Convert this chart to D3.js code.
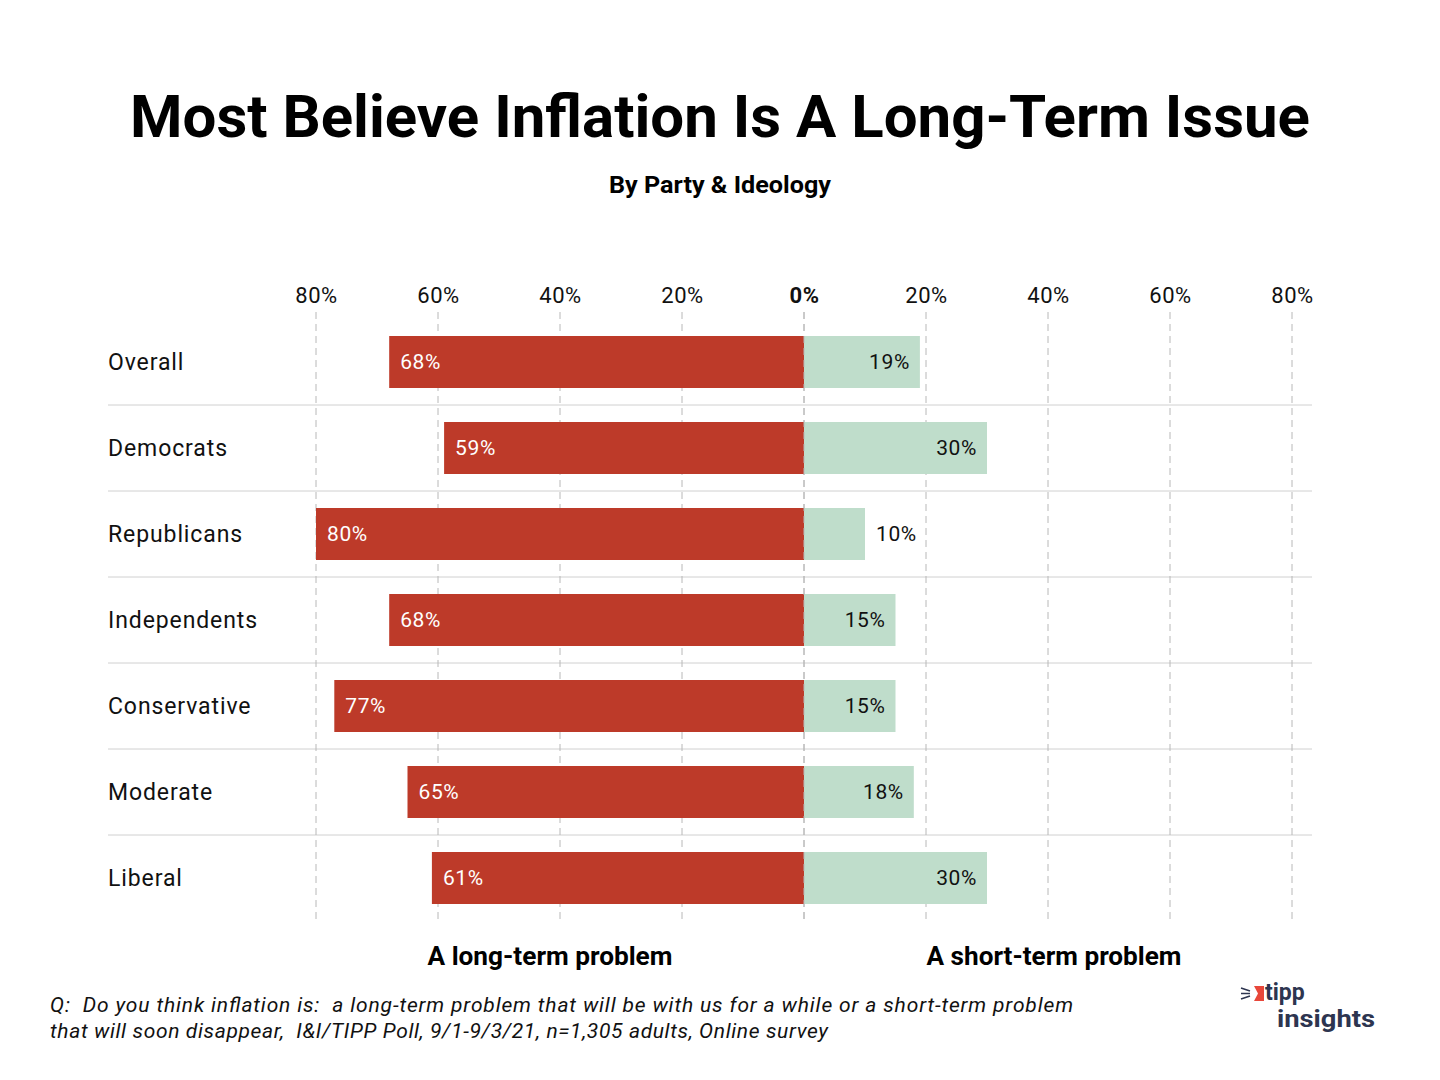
<!DOCTYPE html>
<html><head><meta charset="utf-8">
<script src="https://cdn.jsdelivr.net/npm/d3@7/dist/d3.min.js"></script>
<style>body{margin:0;background:#fff}svg{display:block}text{white-space:pre}</style>
</head><body>
<svg id="c" width="1440" height="1080"></svg>
<script>
const categories = ["Overall","Democrats","Republicans","Independents","Conservative","Moderate","Liberal"];
const longTerm = [68,59,80,68,77,65,61];
const shortTerm = [19,30,10,15,15,18,30];
const ticks = [-80,-60,-40,-20,0,20,40,60,80];

const F = "Roboto, 'Open Sans', sans-serif";
const svg = d3.select("#c");
const red = "#BD3A29", green = "#BFDDCB";

const x = d3.scaleLinear().domain([-80,80]).range([316,1292]);
const rowH = 86;
const top0 = 319;

// title
svg.append("text").attr("x",720).attr("y",137).attr("text-anchor","middle")
  .attr("font-family",F).attr("font-weight",700).attr("font-size",59).attr("fill","#000")
  .attr("textLength",1180).attr("lengthAdjust","spacingAndGlyphs")
  .text("Most Believe Inflation Is A Long-Term Issue");
svg.append("text").attr("x",720).attr("y",193).attr("text-anchor","middle")
  .attr("font-family",F).attr("font-weight",700).attr("font-size",23).attr("fill","#000")
  .attr("textLength",222).attr("lengthAdjust","spacingAndGlyphs")
  .text("By Party & Ideology");

// row separators
categories.slice(1).forEach((c,i)=>{
  const yy = top0 + (i+1)*rowH;
  svg.append("line").attr("x1",108).attr("x2",1312).attr("y1",yy).attr("y2",yy)
    .attr("stroke","#d0d0d0").attr("stroke-width",1);
});

// grid + ticks
const axis = d3.axisTop(x).tickValues(ticks).tickSize(0).tickFormat(d=>Math.abs(d)+"%");
const ag = svg.append("g").attr("transform","translate(0,306)").call(axis);
ag.select(".domain").remove();
ag.selectAll("text").attr("font-family",F).attr("font-size",22).attr("fill","#111").attr("dy",0)
  .attr("letter-spacing",0.5)
  .attr("font-weight",d=>d===0?700:400);
svg.append("g").selectAll("line").data(ticks).join("line")
  .attr("x1",d=>x(d)).attr("x2",d=>x(d)).attr("y1",312).attr("y2",921)
  .attr("stroke","#b8b8b8").attr("stroke-width",1).attr("stroke-dasharray","7,5");

// bars
const bh = 52;
const rowY = i => top0 + i*rowH + rowH/2;
const g = svg.append("g");
g.selectAll("rect.l").data(longTerm).join("rect").attr("class","l")
  .attr("x",d=>x(-d)).attr("width",d=>x(0)-x(-d))
  .attr("y",(d,i)=>rowY(i)-bh/2).attr("height",bh).attr("fill",red);
g.selectAll("rect.s").data(shortTerm).join("rect").attr("class","s")
  .attr("x",x(0)).attr("width",d=>x(d)-x(0))
  .attr("y",(d,i)=>rowY(i)-bh/2).attr("height",bh).attr("fill",green);
svg.append("line").attr("x1",x(0)).attr("x2",x(0)).attr("y1",312).attr("y2",921)
  .attr("stroke","#b8b8b8").attr("stroke-width",1).attr("stroke-dasharray","7,5");

g.selectAll("text.l").data(longTerm).join("text").attr("class","l")
  .attr("x",d=>x(-d)+11).attr("y",(d,i)=>rowY(i)+7)
  .attr("font-family",F).attr("font-size",21).attr("letter-spacing",0.6).attr("fill","#fff").text(d=>d+"%");
g.selectAll("text.s").data(shortTerm).join("text").attr("class","s")
  .attr("x",d=> d>=12 ? x(d)-10 : x(d)+11)
  .attr("text-anchor",d=> d>=12 ? "end" : "start")
  .attr("y",(d,i)=>rowY(i)+7)
  .attr("font-family",F).attr("font-size",21).attr("letter-spacing",0.6).attr("fill","#111").text(d=>d+"%");

// category labels
svg.selectAll("text.cat").data(categories).join("text").attr("class","cat")
  .attr("x",108).attr("y",(d,i)=>rowY(i)+8)
  .attr("font-family",F).attr("font-size",23).attr("letter-spacing",0.9).attr("fill","#111").text(d=>d);

// bottom labels
svg.append("text").attr("x",550).attr("y",965).attr("text-anchor","middle")
  .attr("font-family",F).attr("font-weight",700).attr("font-size",25)
  .attr("textLength",245).attr("lengthAdjust","spacingAndGlyphs").text("A long-term problem");
svg.append("text").attr("x",1054).attr("y",965).attr("text-anchor","middle")
  .attr("font-family",F).attr("font-weight",700).attr("font-size",25)
  .attr("textLength",255).attr("lengthAdjust","spacingAndGlyphs").text("A short-term problem");

// footnote
const fn1 = "Q:  Do you think inflation is:  a long-term problem that will be with us for a while or a short-term problem";
const fn2 = "that will soon disappear,  I&I/TIPP Poll, 9/1-9/3/21, n=1,305 adults, Online survey";
svg.append("text").attr("x",50).attr("y",1012).attr("font-family",F).attr("font-style","italic")
  .attr("font-size",21).attr("fill","#111").attr("textLength",1023).attr("lengthAdjust","spacing").text(fn1);
svg.append("text").attr("x",50).attr("y",1038).attr("font-family",F).attr("font-style","italic")
  .attr("font-size",21).attr("fill","#111").attr("textLength",778).attr("lengthAdjust","spacing").text(fn2);

// logo
const lg = svg.append("g").attr("transform","translate(1240,984)");
lg.append("path").attr("d","M14,2 L24,2 L24,17 L14,17 L18,9.5 Z").attr("fill","#e8473a");
lg.append("path").attr("d","M1,4 L10,7 M1,9.5 L10,9.5 M1,15 L10,12").attr("stroke","#2d3550").attr("stroke-width",1.6);
lg.append("text").attr("x",25).attr("y",16).attr("font-family",F).attr("font-weight",700).attr("font-size",23).attr("fill","#2d3550").text("tipp");
lg.append("text").attr("x",37).attr("y",43).attr("font-family",F).attr("font-weight",700).attr("font-size",24).attr("fill","#2d3550")
  .attr("textLength",98).attr("lengthAdjust","spacingAndGlyphs").text("insights");
</script>
</body></html>
